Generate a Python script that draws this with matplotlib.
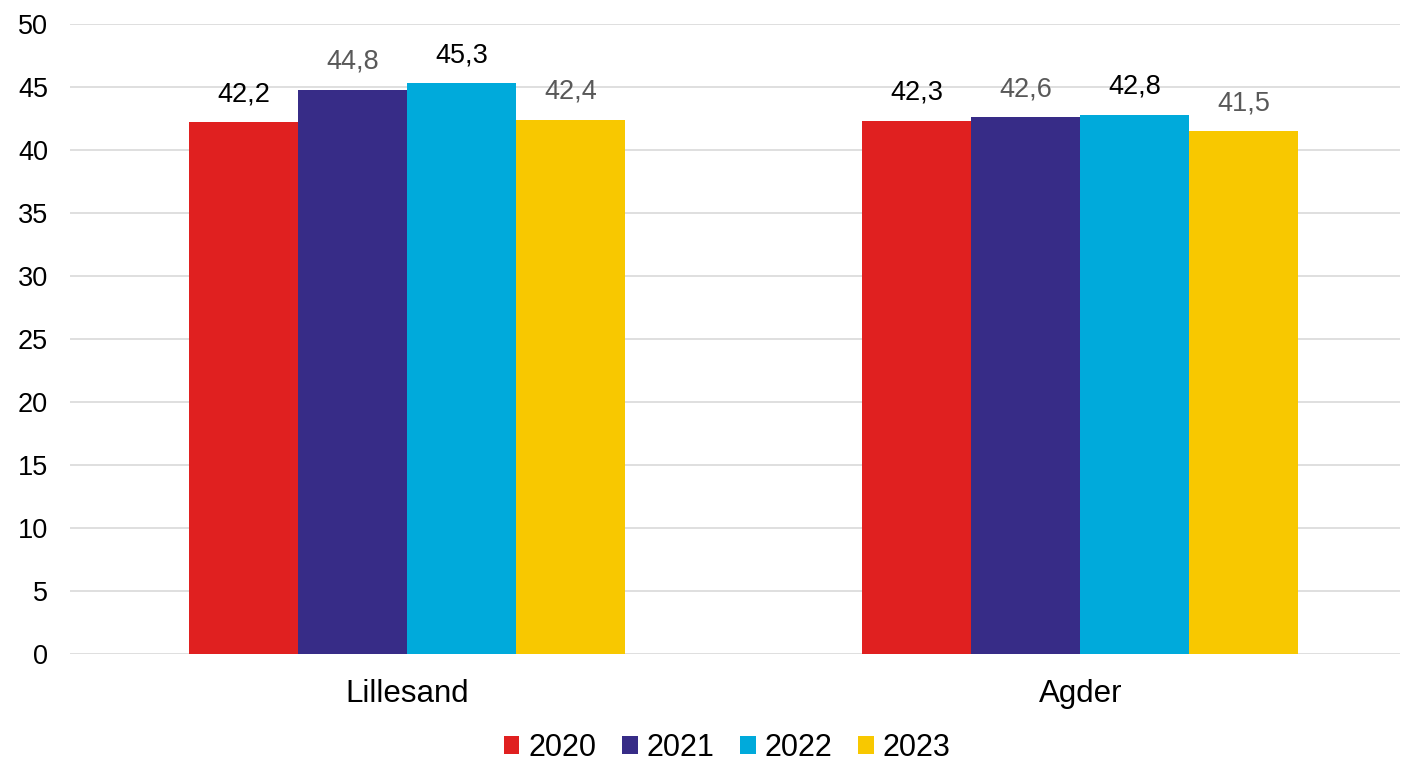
import matplotlib
matplotlib.use("Agg")
import matplotlib.pyplot as plt
import numpy as np

plt.rcParams['font.family'] = ['Liberation Sans', 'DejaVu Sans']

categories = ["Lillesand", "Agder"]
years = ["2020", "2021", "2022", "2023"]
values = {
    "2020": [42.2, 42.3],
    "2021": [44.8, 42.6],
    "2022": [45.3, 42.8],
    "2023": [42.4, 41.5],
}
colors = ["#E02020", "#372C87", "#00AADB", "#F8C800"]
label_colors = ["#000000", "#595959", "#000000", "#595959"]

fig = plt.figure(figsize=(14.03, 7.65), dpi=100)
ax = fig.add_axes([0.05, 0.145, 0.948, 0.8236])

x = np.arange(len(categories))
w = 0.1618
for i, yr in enumerate(years):
    pos = x + (i - 1.5) * w
    bars = ax.bar(pos, values[yr], width=w, color=colors[i], label=yr, zorder=3)
    for b, v in zip(bars, values[yr]):
        ax.text(b.get_x() + b.get_width() / 2, v + 1.2, f"{v:.1f}".replace(".", ","),
                ha="center", va="bottom", fontsize=19.5, color=label_colors[i])

ax.set_ylim(0, 50)
ax.set_yticks(np.arange(0, 51, 5))
ax.set_xlim(-0.5, 1.475)
ax.set_xticks(x)
ax.set_xticklabels(categories, fontsize=22.5)
ax.tick_params(axis='y', labelsize=19.5, length=0, pad=16)
ax.tick_params(axis='x', length=0, pad=18)
ax.grid(axis='y', color='#D9D9D9', linewidth=1.2, zorder=0)
for s in ax.spines.values():
    s.set_visible(False)

leg = ax.legend(loc='lower center', bbox_to_anchor=(0.494, -0.207), ncol=4, frameon=False,
                fontsize=22, handlelength=0.52, handleheight=0.52, handletextpad=0.28,
                columnspacing=0.85, borderaxespad=0.3)

fig.savefig("out.png", dpi=100)
